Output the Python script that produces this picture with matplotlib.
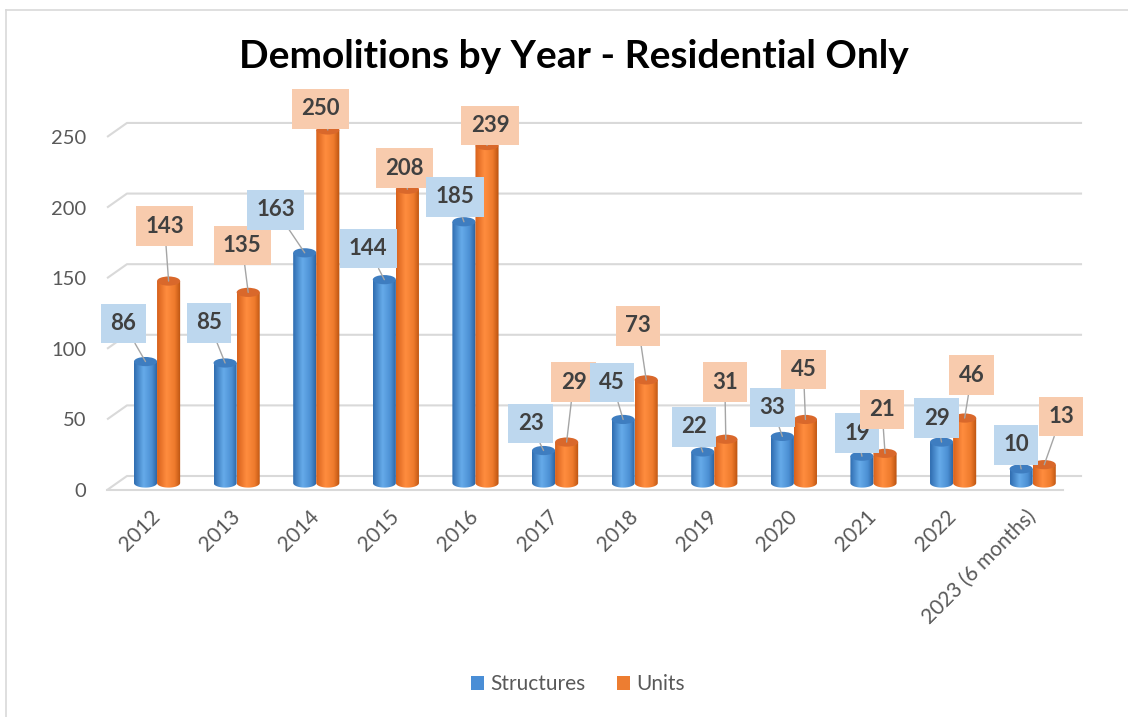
import numpy as np
import matplotlib
matplotlib.use("Agg")
import matplotlib.pyplot as plt
from matplotlib.colors import LinearSegmentedColormap
from matplotlib.patches import Ellipse, Patch, PathPatch
from matplotlib.path import Path
from matplotlib.lines import Line2D

years = ['2012', '2013', '2014', '2015', '2016', '2017', '2018', '2019',
         '2020', '2021', '2022', '2023 (6 months)']
structures = [86, 85, 163, 144, 185, 23, 45, 22, 33, 19, 29, 10]
units = [143, 135, 250, 208, 239, 29, 73, 31, 45, 21, 46, 13]
y_ticks = [0, 50, 100, 150, 200, 250]

# where the data labels sit relative to the bar tops (pixels)
s_off = [(-22, 38), (-16, 40), (-29, 43), (-16, 31), (-9, 25), (-13, 27),
         (-11, 37), (-9, 25), (-10, 29), (-5, 23), (-5, 24), (-5, 24)]
u_off = [(-4, 55), (-6, 47), (-7, 21), (-3, 21), (3, 20), (7, 60),
         (-8, 54), (-1, 57), (-2, 50), (-3, 44), (7, 43), (17, 48)]

plt.rcParams['font.family'] = ['Lato', 'DejaVu Sans']

fig = plt.figure(figsize=(11.28, 7.17), dpi=100)
ax = fig.add_axes([0.0887, 0.3096, 0.8777, 0.5509])

xmin, xmax = -0.716, 11.721
ymin, ymax = -8.5, 271.2
depth = 4.96      # half depth of the floor in y units
slant = 0.25      # left wall slant in x units
x_front = -0.628

# back wall gridlines with the little slanted piece on the left
for v in y_ticks:
    ax.plot([x_front, x_front + slant, 11.62], [v - depth, v + depth, v + depth],
            color='#D9D9D9', lw=1.5, zorder=1, solid_capstyle='butt')
ax.plot([x_front, 11.38], [-depth, -depth], color='#D9D9D9', lw=1.5, zorder=1)

blue_cm = LinearSegmentedColormap.from_list('b', [(0, '#2F6DB0'), (0.4, '#66ABEA'),
                                                 (0.75, '#4B8FD3'), (1, '#2A5F9C')])
orange_cm = LinearSegmentedColormap.from_list('o', [(0, '#D8621C'), (0.4, '#FF8D3F'),
                                                   (0.75, '#EE7A2C'), (1, '#B9520F')])


def cylinder(x, h, w, cmap, top_color, z):
    eh = 6.5
    t = np.linspace(np.pi, 2 * np.pi, 40)
    pts = [(x - w / 2, h)] + list(zip(x + w / 2 * np.cos(t), eh / 2 * np.sin(t))) + [(x + w / 2, h), (x - w / 2, h)]
    clip = PathPatch(Path(pts), transform=ax.transData, fc='none', ec='none')
    grad = np.linspace(0, 1, 64).reshape(1, -1)
    im = ax.imshow(grad, cmap=cmap, extent=[x - w / 2, x + w / 2, -eh / 2, h],
                   aspect='auto', interpolation='bicubic', zorder=z)
    im.set_clip_path(clip)
    ax.add_patch(Ellipse((x, h), w, eh, fc=top_color, ec='none', zorder=z + 0.1))


w = 0.29
for i in range(len(years)):
    cylinder(i - 0.145, structures[i], w, blue_cm, '#3E7DC0', 3)
    cylinder(i + 0.145, units[i], w, orange_cm, '#D9682B', 4)

for i in range(len(years)):
    ax.annotate(str(structures[i]), xy=(i - 0.145, structures[i]), xytext=s_off[i],
                textcoords='offset pixels', ha='center', va='center', fontsize=16,
                fontweight='bold', color='#404040',
                bbox=dict(boxstyle='square,pad=0.42', fc='#BDD7EE', ec='none'),
                arrowprops=dict(arrowstyle='-', color='#A5A5A5', lw=1, shrinkA=0, shrinkB=0),
                zorder=6)
    ax.annotate(str(units[i]), xy=(i + 0.145, units[i]), xytext=u_off[i],
                textcoords='offset pixels', ha='center', va='center', fontsize=16,
                fontweight='bold', color='#404040',
                bbox=dict(boxstyle='square,pad=0.42', fc='#F8CBAD', ec='none'),
                arrowprops=dict(arrowstyle='-', color='#A5A5A5', lw=1, shrinkA=0, shrinkB=0),
                zorder=6)

ax.set_xlim(xmin, xmax)
ax.set_ylim(ymin, ymax)
ax.set_yticks([v - depth for v in y_ticks])
ax.set_yticklabels([str(v) for v in y_ticks], fontsize=14.5, color='#595959')
ax.set_xticks(range(len(years)))
ax.set_xticklabels(years, rotation=45, ha='right', va='center', rotation_mode='anchor',
                   fontsize=15, color='#595959')
ax.tick_params(axis='y', length=0, pad=10)
ax.tick_params(axis='x', length=0, pad=13)
for s in ax.spines.values():
    s.set_visible(False)

fig.text(574 / 1128, 1 - 57 / 717, 'Demolitions by Year - Residential Only',
         ha='center', va='center', fontsize=28, fontweight='bold', color='black')

handles = [Patch(fc='#4A8ED6', ec='none', label='Structures'),
           Patch(fc='#ED7D31', ec='none', label='Units')]
fig.legend(handles=handles, loc='center', bbox_to_anchor=(578 / 1128, 1 - 684 / 717),
           ncol=2, frameon=False, fontsize=15, handlelength=0.65, handleheight=0.65,
           handletextpad=0.3, columnspacing=1.5, labelcolor='#595959')

fig.add_artist(Line2D([6 / 1128, 1], [1 - 10 / 717, 1 - 10 / 717], color='#D9D9D9', lw=1.2))
fig.add_artist(Line2D([6 / 1128, 6 / 1128], [0, 1 - 10 / 717], color='#D9D9D9', lw=1.2))

fig.savefig('out.png', dpi=100)
